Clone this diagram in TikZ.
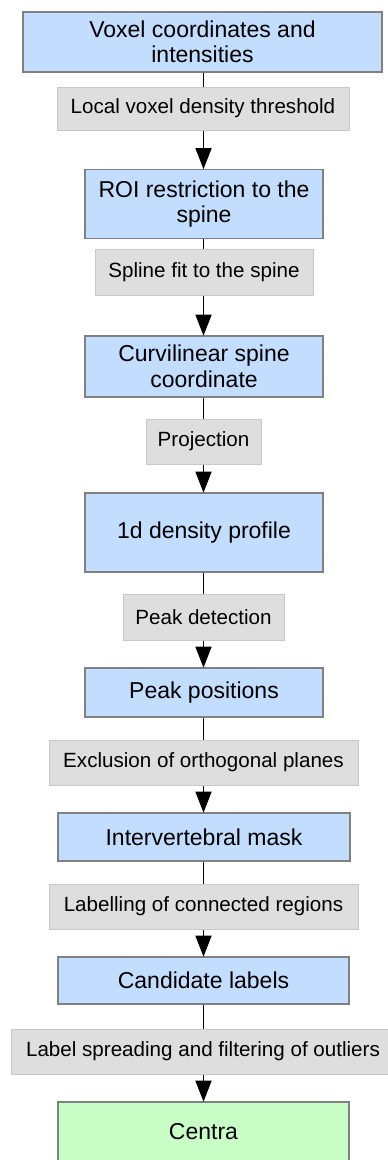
\documentclass[tikz,border=0pt]{standalone}
\usepackage{fontspec}
\setmainfont{Liberation Sans}
\usetikzlibrary{arrows.meta}
\definecolor{boxblue}{RGB}{194,221,253}
\definecolor{boxgreen}{RGB}{200,253,198}
\definecolor{boxedge}{RGB}{128,128,128}
\definecolor{opfill}{RGB}{222,222,222}
\definecolor{opedge}{RGB}{200,200,200}
\begin{document}
\begin{tikzpicture}[x=1pt,y=-1pt,
  databox/.style={draw=boxedge, line width=1.6pt, fill=boxblue, inner sep=0pt,
    align=center, font=\fontsize{23}{25.5}\selectfont},
  resultbox/.style={databox, fill=boxgreen},
  opbox/.style={draw=opedge, line width=1pt, fill=opfill, inner sep=0pt,
    align=center, font=\fontsize{20.6}{23}\selectfont},
  link/.style={line width=1.5pt, black},
  arrowlink/.style={link, -{Triangle[length=21pt,width=16pt]}, shorten >=-0.5pt}]
\useasboundingbox (0,0) rectangle (388,1160);
\clip (0,0) rectangle (388,1160);

\node[databox, minimum width=359pt, minimum height=60pt] (b1) at (202.5,42) {Voxel coordinates and\\intensities};
\node[opbox, minimum width=292pt, minimum height=43pt] (g1) at (203,108.5) {Local voxel density threshold};
\node[databox, minimum width=238pt, minimum height=69pt] (b2) at (204,204) {ROI restriction to the\\spine};
\node[opbox, minimum width=218pt, minimum height=46pt] (g2) at (204,272) {Spline fit to the spine};
\node[databox, minimum width=238pt, minimum height=61pt] (b3) at (204,366.5) {Curvilinear spine\\coordinate};
\node[opbox, minimum width=115pt, minimum height=45pt] (g3) at (203.5,441.5) {Projection};
\node[databox, minimum width=238pt, minimum height=79pt] (b4) at (204,532.5) {1d density profile};
\node[opbox, minimum width=161pt, minimum height=46pt] (g4) at (203.5,617) {Peak detection};
\node[databox, minimum width=238pt, minimum height=49pt] (b5) at (204,692.5) {Peak positions};
\node[opbox, minimum width=309pt, minimum height=45pt] (g5) at (203.5,762.5) {Exclusion of orthogonal planes};
\node[databox, minimum width=292pt, minimum height=48pt] (b6) at (204,837) {Intervertebral mask};
\node[opbox, minimum width=309pt, minimum height=45pt] (g6) at (203.5,906.5) {Labelling of connected regions};
\node[databox, minimum width=291pt, minimum height=47pt] (b7) at (203.5,980.5) {Candidate labels};
\node[opbox, minimum width=384pt, minimum height=45pt] (g7) at (203,1051.5) {Label spreading and filtering of outliers};
\node[resultbox, minimum width=291pt, minimum height=60pt] (b8) at (203.5,1132) {Centra};

\begin{scope}[on background layer/.style={}]
\draw[link] (b1.south -| 203.5,0) -- (g1.north -| 203.5,0);
\draw[arrowlink] (g1.south -| 203.5,0) -- (b2.north -| 203.5,0);
\draw[link] (b2.south -| 203.5,0) -- (g2.north -| 203.5,0);
\draw[arrowlink] (g2.south -| 203.5,0) -- (b3.north -| 203.5,0);
\draw[link] (b3.south -| 203.5,0) -- (g3.north -| 203.5,0);
\draw[arrowlink] (g3.south -| 203.5,0) -- (b4.north -| 203.5,0);
\draw[link] (b4.south -| 203.5,0) -- (g4.north -| 203.5,0);
\draw[arrowlink] (g4.south -| 203.5,0) -- (b5.north -| 203.5,0);
\draw[link] (b5.south -| 203.5,0) -- (g5.north -| 203.5,0);
\draw[arrowlink] (g5.south -| 203.5,0) -- (b6.north -| 203.5,0);
\draw[link] (b6.south -| 203.5,0) -- (g6.north -| 203.5,0);
\draw[arrowlink] (g6.south -| 203.5,0) -- (b7.north -| 203.5,0);
\draw[link] (b7.south -| 203.5,0) -- (g7.north -| 203.5,0);
\draw[arrowlink] (g7.south -| 203.5,0) -- (b8.north -| 203.5,0);
\end{scope}
\end{tikzpicture}
\end{document}
